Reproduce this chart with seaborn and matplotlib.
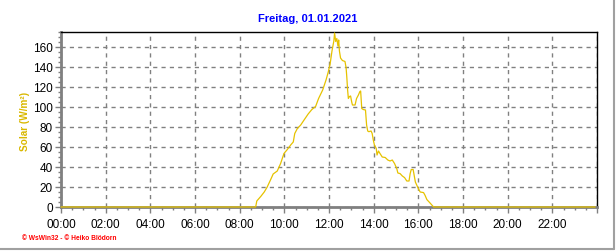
import matplotlib
matplotlib.use("Agg")
import matplotlib.pyplot as plt
from matplotlib.ticker import MultipleLocator, FuncFormatter
from matplotlib.lines import Line2D
import seaborn as sns
import pandas as pd

title = "Freitag, 01.01.2021"
ylabel = "Solar (W/m²)"
footer = "© WsWin32 - © Heiko Blödorn"

times = ["00:00", "08:43", "08:46", "08:57", "09:06", "09:14", "09:24", "09:30", "09:41", "09:50",
         "09:59", "10:08", "10:17", "10:24", "10:28", "10:35", "10:44", "10:53", "11:04", "11:14",
         "11:24", "11:32", "11:43", "11:52", "11:58", "12:03", "12:08", "12:13", "12:15", "12:18",
         "12:21", "12:24", "12:26", "12:28", "12:31", "12:36", "12:43", "12:46", "12:48", "12:50",
         "12:52", "12:55", "12:58", "13:01", "13:03", "13:10", "13:14", "13:19", "13:23", "13:25",
         "13:28", "13:32", "13:38", "13:41", "13:44", "13:47", "13:53", "13:56", "13:59", "14:02",
         "14:07", "14:09", "14:13", "14:17", "14:23", "14:31", "14:38", "14:44", "14:50", "14:56",
         "15:02", "15:05", "15:11", "15:17", "15:23", "15:29", "15:35", "15:38", "15:41", "15:46",
         "15:48", "15:52", "15:56", "16:00", "16:05", "16:14", "16:18", "16:23", "16:29", "16:37",
         "16:41", "23:55"]
solar = [0, 0, 6, 10.7, 15, 20, 28, 33, 36, 43.5,
         53.5, 57.5, 62, 65, 73.5, 78.5, 82, 87, 93, 97.5,
         100.5, 108.5, 117, 127, 135, 143, 156, 166, 174, 165.5,
         168.5, 161, 167, 156, 149, 146.5, 145.5, 139, 129, 117,
         108.5, 110.5, 111, 105, 102, 102, 108.5, 112, 115.5, 116,
         98.5, 97.5, 97, 82, 76, 75.3, 76, 73.5, 67, 62,
         58.5, 52, 56, 53.5, 50, 49.5, 47, 46, 47, 43.5,
         38.5, 34, 33.4, 31, 29.4, 26, 26, 33.4, 37.5, 37.5,
         33.4, 25, 21.7, 18.4, 15, 14.4, 11.7, 7.4, 5, 1.7,
         0, 0]

def to_hours(s):
    h, m = s.split(":")
    return int(h) + int(m) / 60.0

df = pd.DataFrame({"hour": [to_hours(t) for t in times], "solar": solar})

sns.set_style("white")
plt.rcParams["font.family"] = ["Liberation Sans", "DejaVu Sans"]

fig = plt.figure(figsize=(6.16, 2.53), dpi=100)
ax = fig.add_axes([61 / 616, 1 - 208 / 253, (597 - 61) / 616, (208 - 33) / 253])

sns.lineplot(data=df, x="hour", y="solar", ax=ax, color="#E6C200", linewidth=0.9,
             clip_on=False, zorder=5, estimator=None, sort=False)

ax.set_xlim(0, 24)
ax.set_ylim(0, 175)
ax.xaxis.set_major_locator(MultipleLocator(2))
ax.xaxis.set_minor_locator(MultipleLocator(0.5))
ax.yaxis.set_major_locator(MultipleLocator(20))
ax.yaxis.set_minor_locator(MultipleLocator(5))
ax.xaxis.set_major_formatter(FuncFormatter(lambda v, p: "%02d:00" % int(round(v)) if v < 23.9 else ""))
ax.grid(True, which="major", color="#808080", linestyle=(0, (3, 3)), linewidth=1.0)
ax.set_axisbelow(True)

for side in ["top", "right"]:
    ax.spines[side].set_color("black")
    ax.spines[side].set_linewidth(1.0)
for side in ["left", "bottom"]:
    ax.spines[side].set_color("#808080")
    ax.spines[side].set_linewidth(2.0)

ax.tick_params(axis="both", which="major", direction="out", length=4, width=1, color="#808080",
               labelsize=8.5, labelcolor="black", pad=2,
               bottom=True, left=True)
ax.tick_params(axis="both", which="minor", direction="out", length=2, width=1, color="#808080",
               bottom=True, left=True)
ax.tick_params(axis="x", which="major", pad=4)

ax.set_xlabel("")
ax.set_ylabel("")
fig.text(25 / 616, 1 - 121 / 253, ylabel, color="#D9B800", fontsize=7.2, fontweight="bold",
         rotation=90, ha="center", va="center")
fig.text(308 / 616, 1 - 19 / 253, title, color="#0000FF", fontsize=8, fontweight="bold",
         ha="center", va="center")

fig.text(22 / 616, 1 - 239 / 253, footer, color="#FF0000", fontsize=4.8, fontweight="bold",
         ha="left", va="center")

fig.add_artist(Line2D([0, 614 / 616], [1 - 250 / 253, 1 - 250 / 253], transform=fig.transFigure,
                      color="#A0A0A0", linewidth=1.5))
fig.add_artist(Line2D([614 / 616, 614 / 616], [1, 1 - 250 / 253], transform=fig.transFigure,
                      color="#A0A0A0", linewidth=1.5))

fig.savefig("out.png", dpi=100)
